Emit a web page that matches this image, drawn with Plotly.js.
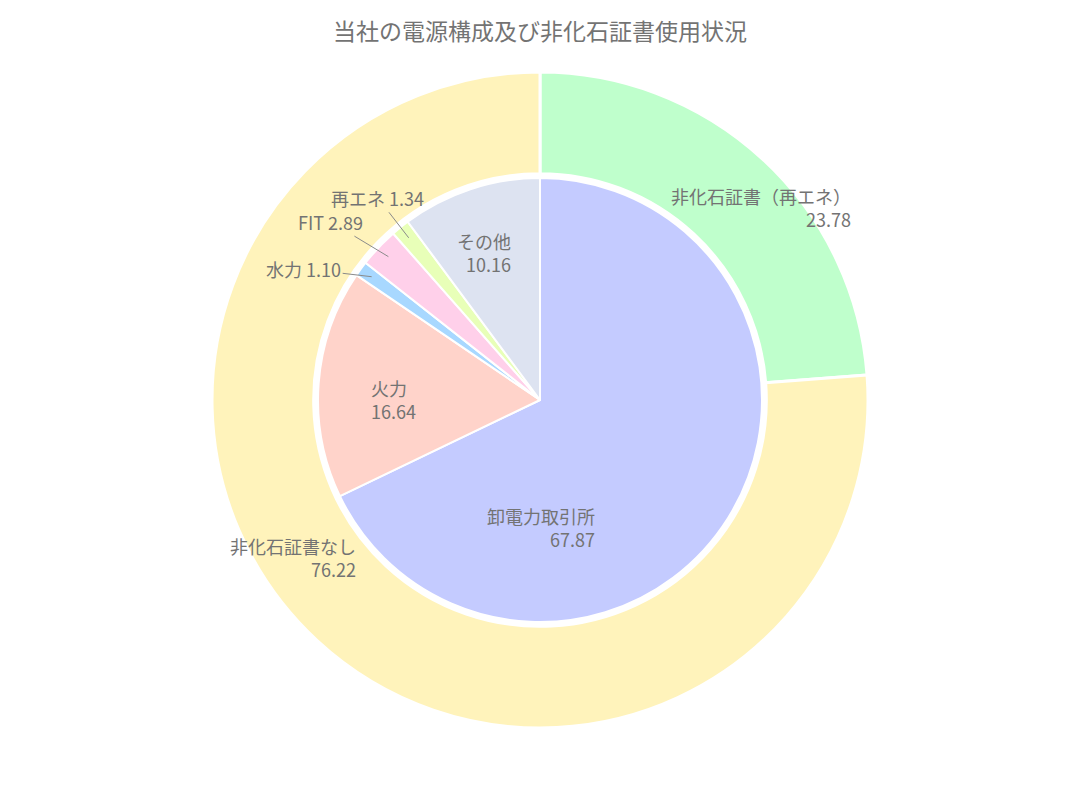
<!DOCTYPE html>
<html>
<head>
<meta charset="utf-8">
<script src="https://cdn.plot.ly/plotly-3.0.1.min.js"></script>
<style>
  html, body { margin: 0; padding: 0; background: #fff; }
  #chart { width: 1080px; height: 800px; }
</style>
</head>
<body>
<div id="chart"></div>
<script>
  // outer ring: non-fossil certificate usage
  const certLabels = ["非化石証書（再エネ）", "非化石証書なし"];
  const certValues = [23.78, 76.22];

  // inner pie: power source mix
  const mixLabels = ["卸電力取引所", "火力", "水力", "FIT", "再エネ", "その他"];
  const mixValues = [67.87, 16.64, 1.10, 2.89, 1.34, 10.16];

  const certColors = ["#bfffcc", "#fff3bb"];
  const mixColors = ["#c4cbff", "#ffd3ca", "#a8d8ff", "#ffd0ea", "#e8ffb8", "#dde3f1"];

  const TEXT = "#737373";
  const FONT = "'Noto Sans CJK JP', 'Noto Sans', sans-serif";
  const W = 1080, H = 800;
  const M = { l: 80, r: 80, t: 72, b: 72 };
  const PW = W - M.l - M.r, PH = H - M.t - M.b;
  const INNER_FRAC = 0.6768; // inner pie diameter / outer diameter

  // pixel (page) -> paper coordinates
  function px(x) { return (x - M.l) / PW; }
  function py(y) { return (H - M.b - y) / PH; }

  // label boxes for the inside texts, in page pixels (anchor point)
  const certLabelPos = [
    { x: 853, y: 207, align: "right" },
    { x: 358, y: 557, align: "right" },
  ];
  const mixLabelPos = {
    "卸電力取引所": { x: 597, y: 527, align: "right" },
    "火力": { x: 369, y: 399, align: "left" },
    "その他": { x: 513, y: 252, align: "right" },
  };
  // small slices: text offset from the leader-line tip, in pixels
  const mixCallout = {
    "水力": { ax: -68, ay: -8 },
    "FIT": { ax: -58, ay: -35 },
    "再エネ": { ax: -31, ay: -40 },
  };

  const fmt = (v) => v.toFixed(2);
  const annotations = [];

  certLabels.forEach((label, i) => {
    const p = certLabelPos[i];
    annotations.push({
      text: label + "<br>" + fmt(certValues[i]),
      x: px(p.x), y: py(p.y), xref: "paper", yref: "paper",
      xanchor: p.align, yanchor: "middle", align: p.align,
      showarrow: false,
      font: { family: FONT, size: 18, color: TEXT },
    });
  });

  // slice mid-angles (clockwise from 12 o'clock) for the leader lines
  const total = mixValues.reduce((a, b) => a + b, 0);
  let acc = 0;
  const R = INNER_FRAC / 2; // radius, in units of the plot height
  mixLabels.forEach((label, i) => {
    const mid = (acc + mixValues[i] / 2) / total * 2 * Math.PI;
    acc += mixValues[i];
    if (mixLabelPos[label]) {
      const p = mixLabelPos[label];
      annotations.push({
        text: label + "<br>" + fmt(mixValues[i]),
        x: px(p.x), y: py(p.y), xref: "paper", yref: "paper",
        xanchor: p.align, yanchor: "middle", align: p.align,
        showarrow: false,
        font: { family: FONT, size: 18, color: TEXT },
      });
    } else {
      const c = mixCallout[label];
      const r = R * 0.94;
      annotations.push({
        text: label + " " + fmt(mixValues[i]),
        x: 0.5 + r * Math.sin(mid) * PH / PW,
        y: 0.5 + r * Math.cos(mid),
        xref: "paper", yref: "paper",
        showarrow: true, arrowhead: 0, arrowwidth: 1, arrowcolor: "#8a8a8a",
        standoff: 0, startstandoff: 0,
        ax: c.ax, ay: c.ay,
        font: { family: FONT, size: 18, color: TEXT },
      });
    }
  });

  const outer = {
    type: "pie",
    labels: certLabels,
    values: certValues,
    sort: false,
    direction: "clockwise",
    rotation: 0,
    hole: 0.69,
    marker: { colors: certColors, line: { color: "#ffffff", width: 3 } },
    textinfo: "none",
    domain: { x: [0, 1], y: [0, 1] },
    hoverinfo: "label+value",
  };

  const inner = {
    type: "pie",
    labels: mixLabels,
    values: mixValues,
    sort: false,
    direction: "clockwise",
    rotation: 0,
    marker: { colors: mixColors, line: { color: "#ffffff", width: 2 } },
    textinfo: "none",
    domain: { x: [0, 1], y: [(1 - INNER_FRAC) / 2, (1 + INNER_FRAC) / 2] },
    hoverinfo: "label+value",
  };

  const layout = {
    width: W,
    height: H,
    margin: M,
    paper_bgcolor: "#ffffff",
    showlegend: false,
    title: {
      text: "当社の電源構成及び非化石証書使用状況",
      font: { family: FONT, size: 23, color: TEXT },
      x: 0.5,
      xanchor: "center",
      y: 0.96,
      yanchor: "middle",
    },
    annotations: annotations,
    font: { family: FONT, color: TEXT },
  };

  Plotly.newPlot("chart", [outer, inner], layout, { displayModeBar: false });
</script>
</body>
</html>
